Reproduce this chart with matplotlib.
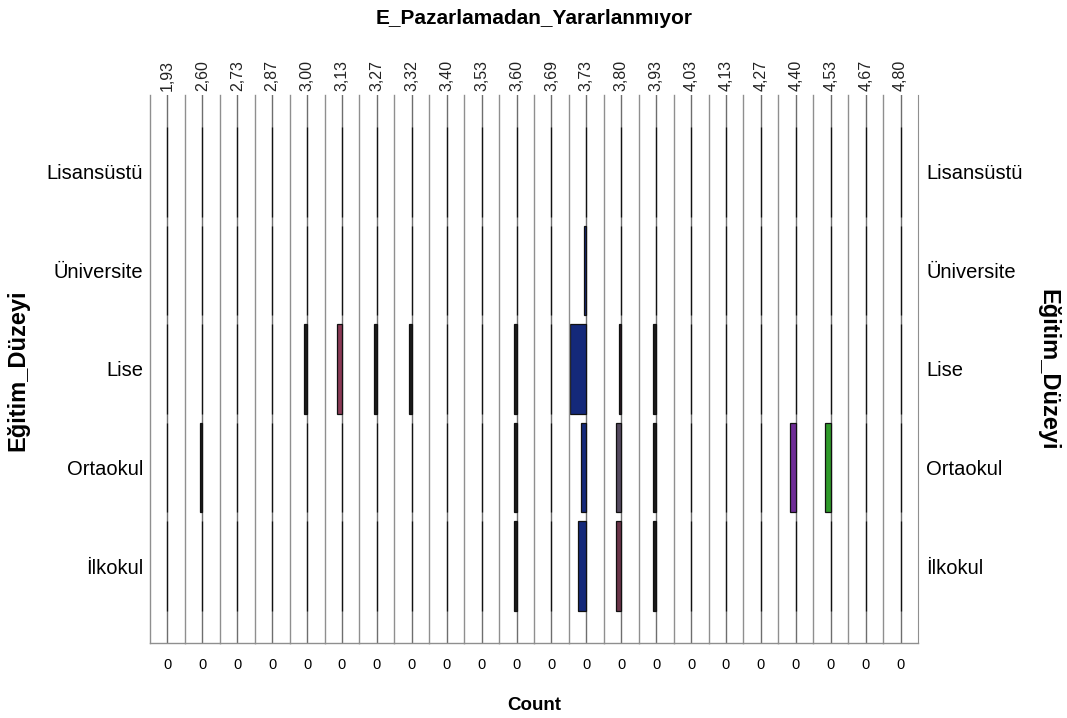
import matplotlib
matplotlib.use("Agg")
import matplotlib.pyplot as plt

plt.rcParams["font.family"] = ["Liberation Sans", "DejaVu Sans"]

# Panel categories (one column panel per value)
values = ["1,93", "2,60", "2,73", "2,87", "3,00", "3,13", "3,27", "3,32", "3,40",
          "3,53", "3,60", "3,69", "3,73", "3,80", "3,93", "4,03", "4,13", "4,27",
          "4,40", "4,53", "4,67", "4,80"]

# Row categories, top to bottom
levels = ["Lisansüstü", "Üniversite", "Lise", "Ortaokul", "İlkokul"]

# Counts per row, one entry per value panel
lisansustu = [0, 0, 0, 0, 0, 0, 0, 0, 0, 0, 0, 0, 0, 0, 0, 0, 0, 0, 0, 0, 0, 0]
universite = [0, 0, 0, 0, 0, 0, 0, 0, 0, 0, 0, 0, 1, 0, 0, 0, 0, 0, 0, 0, 0, 0]
lise       = [0, 0, 0, 0, 1, 2, 1, 1, 0, 0, 1, 0, 6, 1, 1, 0, 0, 0, 0, 0, 0, 0]
ortaokul   = [0, 1, 0, 0, 0, 0, 0, 0, 0, 0, 1, 0, 2, 2, 1, 0, 0, 0, 2, 2, 0, 0]
ilkokul    = [0, 0, 0, 0, 0, 0, 0, 0, 0, 0, 1, 0, 3, 2, 1, 0, 0, 0, 0, 0, 0, 0]

rows = [lisansustu, universite, lise, ortaokul, ilkokul]

# Fill colours for individual cells; everything else is near-black
cell_colors = {
    ("Üniversite", "3,73"): "#14297a",
    ("Lise", "3,73"): "#14297a",
    ("Ortaokul", "3,73"): "#14297a",
    ("İlkokul", "3,73"): "#14297a",
    ("Lise", "3,13"): "#8a3a55",
    ("Lise", "3,80"): "#2a1a22",
    ("Ortaokul", "3,80"): "#54495e",
    ("İlkokul", "3,80"): "#6a3448",
    ("Ortaokul", "4,40"): "#6e2c96",
    ("Ortaokul", "4,53"): "#2f9a2a",
}
default_color = "#1b1b1b"

W, H = 1067, 718
fig = plt.figure(figsize=(W / 100, H / 100), dpi=100)
left, right = 150 / W, 918 / W
bottom, top = 1 - 643 / H, 1 - 95 / H
n = len(values)
pw = (right - left) / n

max_count = max(max(r) for r in rows)
ypos = list(range(len(levels) - 1, -1, -1))

axes = []
for j, val in enumerate(values):
    ax = fig.add_axes([left + j * pw, bottom, pw, top - bottom])
    axes.append(ax)
    col = [r[j] for r in rows]
    colors = [cell_colors.get((lv, val), default_color) for lv in levels]
    ax.axvline(0, color="#6e6e6e", lw=1.0, zorder=0)
    ax.barh(ypos, col, height=0.91, color=colors, edgecolor="#111111",
            linewidth=0.9, zorder=2)
    ax.set_xlim(max_count * 1.06, -max_count * 1.06)
    ax.set_ylim(-0.78, len(levels) - 1 + 0.78)
    ax.set_xticks([0])
    ax.set_xticklabels(["0"], fontsize=10.5)
    ax.tick_params(axis="x", length=0, pad=11)
    ax.set_yticks([])
    for s in ("top", "right"):
        ax.spines[s].set_visible(False)
    ax.spines["left"].set_color("#8f8f8f")
    ax.spines["left"].set_linewidth(1.0)
    ax.spines["bottom"].set_color("#8f8f8f")
    ax.spines["bottom"].set_linewidth(1.0)
    if j == n - 1:
        ax.spines["right"].set_visible(True)
        ax.spines["right"].set_color("#8f8f8f")
    sec = ax.secondary_xaxis("top")
    sec.set_xticks([0])
    sec.set_xticklabels([val], rotation=90, fontsize=11.5, color="#222222")
    sec.tick_params(length=0, pad=3)
    sec.spines["top"].set_visible(False)

# Row labels on both sides
axes[0].set_yticks(ypos)
axes[0].set_yticklabels(levels, fontsize=14.5)
axes[0].tick_params(axis="y", length=0, pad=5)
axes[-1].yaxis.tick_right()
axes[-1].set_yticks(ypos)
axes[-1].set_yticklabels(levels, fontsize=14.5)
axes[-1].tick_params(axis="y", length=0, pad=6)

cx = (left + right) / 2
fig.text(cx, 1 - 18 / H, "E_Pazarlamadan_Yararlanmıyor", ha="center", va="center",
         fontsize=15, fontweight="bold")
fig.text(cx, 1 - 705 / H, "Count", ha="center", va="center",
         fontsize=13.5, fontweight="bold")
fig.text(18 / W, 1 - 370 / H, "Eğitim_Düzeyi", ha="center", va="center",
         rotation=90, fontsize=17, fontweight="bold")
fig.text(1048 / W, 1 - 370 / H, "Eğitim_Düzeyi", ha="center", va="center",
         rotation=-90, fontsize=17, fontweight="bold")

fig.savefig("out.png", dpi=100)
